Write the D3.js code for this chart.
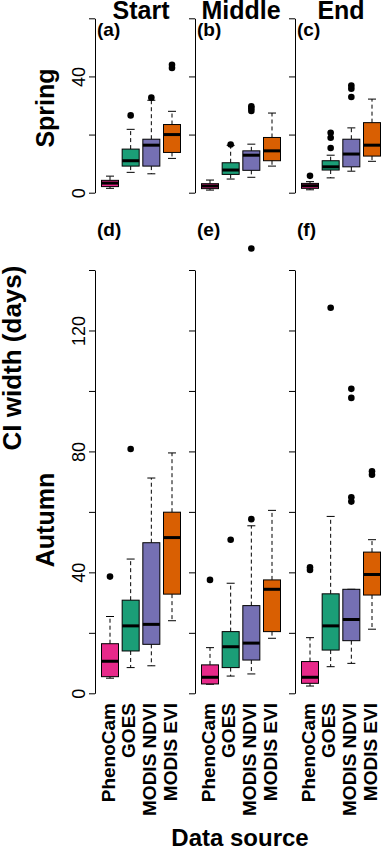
<!DOCTYPE html>
<html>
<head>
<meta charset="utf-8">
<script src="https://cdn.jsdelivr.net/npm/d3@7"></script>
<style>
  html, body { margin: 0; padding: 0; background: #fff; }
  svg { display: block; font-family: 'Liberation Sans', Arial, sans-serif; }
</style>
</head>
<body>
<div id="chart"></div>
<script>
const sources = ['PhenoCam', 'GOES', 'MODIS NDVI', 'MODIS EVI'];
const phases = ['Start', 'Middle', 'End'];
const seasons = ['Spring', 'Autumn'];
const panelLetters = [['(a)', '(b)', '(c)'], ['(d)', '(e)', '(f)']];
const colors = ['#E7298A', '#1B9E77', '#7570B3', '#D95F02'];

// box stats per source: [lower whisker, q1, median, q3, upper whisker]
const springStart = [[1.5, 2.1, 3.3, 4.25, 5.7], [7.0, 9.15, 11.0, 15.0, 21.8], [6.5, 9.15, 16.35, 18.4, 31.8], [11.8, 13.85, 20.0, 23.45, 28.0]];
const springMiddle = [[0.9, 1.4, 2.3, 3.1, 4.35], [4.7, 6.3, 7.8, 10.3, 16.3], [5.3, 7.7, 12.9, 14.4, 16.7], [9.15, 11.0, 14.4, 19.0, 27.4]];
const springEnd = [[1.0, 1.5, 2.4, 3.2, 3.8], [5.1, 7.8, 8.9, 11.0, 12.9], [7.4, 8.9, 13.3, 18.4, 22.3], [10.8, 12.6, 16.35, 24.1, 32.2]];
const autumnStart = [[5.0, 5.5, 10.6, 16.4, 25.4], [8.5, 14.0, 22.3, 30.8, 44.4], [9.1, 16.2, 22.8, 49.8, 71.2], [24.0, 32.8, 51.5, 59.9, 79.5]];
const autumnMiddle = [[3.0, 3.1, 5.3, 9.4, 15.1], [5.7, 8.5, 15.4, 20.4, 36.4], [6.4, 11.0, 16.6, 29.0, 55.4], [18.2, 20.4, 34.4, 37.5, 60.5]];
const autumnEnd = [[2.4, 3.3, 5.3, 10.5, 18.4], [8.8, 14.3, 22.3, 32.9, 58.5], [9.9, 17.4, 24.4, 34.4, 34.4], [21.2, 32.5, 39.3, 46.7, 50.8]];

// outliers per source
const springStartOut = [[], [26.6], [32.7], [44.0, 42.9]];
const springMiddleOut = [[], [16.6], [29.7, 29.0, 28.1], []];
const springEndOut = [[5.8], [20.6, 18.9, 15.4], [36.9, 35.8, 32.9], []];
const autumnStartOut = [[38.6], [80.8], [], []];
const autumnMiddleOut = [[37.5], [50.8], [57.6, 147.1], []];
const autumnEndOut = [[41.7, 40.8], [127.5], [100.7, 97.7, 64.8, 63.4], [73.4, 72.3]];

const yTicksSpring = [0, 20, 40, 60];
const yLabelsSpring = [0, 40];
const yTicksAutumn = [0, 20, 40, 60, 80, 100, 120, 140];
const yLabelsAutumn = [0, 40, 80, 120];

const stats = [[springStart, springMiddle, springEnd], [autumnStart, autumnMiddle, autumnEnd]];
const outliers = [[springStartOut, springMiddleOut, springEndOut], [autumnStartOut, autumnMiddleOut, autumnEndOut]];

const WIDTH = 382;
const HEIGHT = 850;
const columnX = [95, 195, 295];
const BOX_WIDTH = 17;
const STAPLE_WIDTH = 8;

const rows = [
  { yScale: d3.scaleLinear().domain([0, 60]).range([192.7, 18.3]), ticks: yTicksSpring, labels: yLabelsSpring, letterY: 36, labelY: 108 },
  { yScale: d3.scaleLinear().domain([0, 140]).range([693.3, 270]), ticks: yTicksAutumn, labels: yLabelsAutumn, letterY: 236, labelY: 520 },
];

const svg = d3.create('svg').attr('width', WIDTH).attr('height', HEIGHT);

rows.forEach((row, r) => {
  const yScale = row.yScale;

  columnX.forEach((x0, c) => {
    const xScale = d3.scaleLinear().domain([1, 4]).range([x0 + 15, x0 + 77]);
    const panel = svg.append('g');

    const axis = d3.axisLeft(yScale)
      .tickValues(row.ticks)
      .tickSize(6)
      .tickSizeOuter(0)
      .tickFormat((d) => (c === 0 && row.labels.includes(d) ? d : ''));

    const g = panel.append('g')
      .attr('transform', `translate(${x0}, 0)`)
      .call(axis);
    g.selectAll('path, line').attr('stroke', '#000').attr('stroke-width', 1);
    g.selectAll('text')
      .attr('x', null)
      .attr('dy', null)
      .attr('fill', '#000')
      .attr('text-anchor', 'middle')
      .attr('transform', 'translate(-10, 0) rotate(-90)')
      .style('font-family', "'Liberation Sans', Arial, sans-serif")
      .style('font-size', '18px');

    const boxes = stats[r][c].map((s, i) => ({
      i: i + 1,
      low: s[0], q1: s[1], med: s[2], q3: s[3], high: s[4],
      out: outliers[r][c][i],
      color: colors[i],
    }));

    const box = panel.selectAll('g.box')
      .data(boxes)
      .join('g')
      .attr('class', 'box');

    // whiskers
    box.append('line')
      .attr('x1', (d) => xScale(d.i)).attr('x2', (d) => xScale(d.i))
      .attr('y1', (d) => yScale(d.q3)).attr('y2', (d) => yScale(d.high))
      .attr('stroke', '#000').attr('stroke-dasharray', '4,3');
    box.append('line')
      .attr('x1', (d) => xScale(d.i)).attr('x2', (d) => xScale(d.i))
      .attr('y1', (d) => yScale(d.q1)).attr('y2', (d) => yScale(d.low))
      .attr('stroke', '#000').attr('stroke-dasharray', '4,3');
    box.append('line')
      .attr('x1', (d) => xScale(d.i) - STAPLE_WIDTH / 2).attr('x2', (d) => xScale(d.i) + STAPLE_WIDTH / 2)
      .attr('y1', (d) => yScale(d.high)).attr('y2', (d) => yScale(d.high))
      .attr('stroke', '#000');
    box.append('line')
      .attr('x1', (d) => xScale(d.i) - STAPLE_WIDTH / 2).attr('x2', (d) => xScale(d.i) + STAPLE_WIDTH / 2)
      .attr('y1', (d) => yScale(d.low)).attr('y2', (d) => yScale(d.low))
      .attr('stroke', '#000');

    box.append('rect')
      .attr('x', (d) => xScale(d.i) - BOX_WIDTH / 2)
      .attr('width', BOX_WIDTH)
      .attr('y', (d) => yScale(d.q3))
      .attr('height', (d) => yScale(d.q1) - yScale(d.q3))
      .attr('fill', (d) => d.color)
      .attr('stroke', '#000')
      .attr('stroke-width', 1);

    box.append('line')
      .attr('x1', (d) => xScale(d.i) - BOX_WIDTH / 2).attr('x2', (d) => xScale(d.i) + BOX_WIDTH / 2)
      .attr('y1', (d) => yScale(d.med)).attr('y2', (d) => yScale(d.med))
      .attr('stroke', '#000').attr('stroke-width', 3);

    box.selectAll('circle')
      .data((d) => d.out.map((v) => ({ i: d.i, v })))
      .join('circle')
      .attr('cx', (d) => xScale(d.i))
      .attr('cy', (d) => yScale(d.v))
      .attr('r', 3.3)
      .attr('fill', '#000');

    panel.append('text')
      .attr('x', x0 + 2)
      .attr('y', row.letterY)
      .attr('font-size', 19)
      .attr('font-weight', 'bold')
      .text(panelLetters[r][c]);

    if (r === 0) {
      svg.append('text')
        .attr('x', x0 + 46)
        .attr('y', 19)
        .attr('text-anchor', 'middle')
        .attr('font-size', 25)
        .attr('font-weight', 'bold')
        .text(phases[c]);
    }

    if (r === 1) {
      panel.selectAll('text.source')
        .data(sources)
        .join('text')
        .attr('class', 'source')
        .attr('text-anchor', 'end')
        .attr('dominant-baseline', 'central')
        .attr('font-size', 19)
        .attr('font-weight', 'bold')
        .attr('transform', (d, i) => `translate(${xScale(i + 1) - 2}, 703) rotate(-90)`)
        .text((d) => d);
    }
  });

  svg.append('text')
    .attr('transform', `translate(54, ${row.labelY}) rotate(-90)`)
    .attr('text-anchor', 'middle')
    .attr('font-size', 25)
    .attr('font-weight', 'bold')
    .text(seasons[r]);
});

svg.append('text')
  .attr('transform', 'translate(21, 358) rotate(-90)')
  .attr('text-anchor', 'middle')
  .attr('font-size', 26)
  .attr('font-weight', 'bold')
  .text('CI width (days)');

svg.append('text')
  .attr('x', 240)
  .attr('y', 846)
  .attr('text-anchor', 'middle')
  .attr('font-size', 24)
  .attr('font-weight', 'bold')
  .text('Data source');

document.getElementById('chart').appendChild(svg.node());
</script>
</body>
</html>
